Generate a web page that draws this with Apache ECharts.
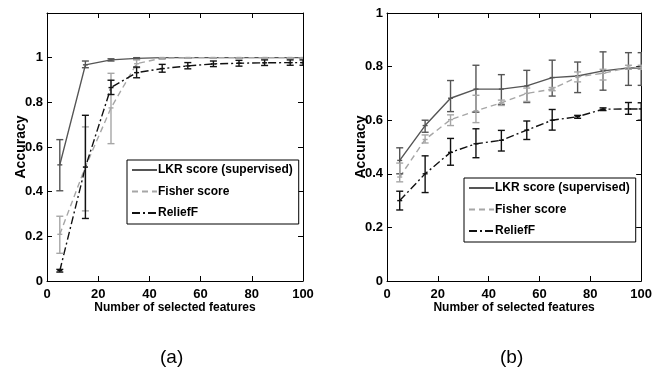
<!DOCTYPE html>
<html><head><meta charset="utf-8">
<script src="https://cdn.jsdelivr.net/npm/echarts@6/dist/echarts.min.js"></script>
<style>html,body{margin:0;padding:0;background:#fff}#c{width:655px;height:373px}</style>
</head><body><div id="c"></div>
<script>
const xs = [5,15,25,35,45,55,65,75,85,95,100];
const seriesNames = ['LKR score (supervised)','Fisher score','ReliefF'];
const yTicksA = [0,0.2,0.4,0.6,0.8,1];
const yTicksB = [0,0.2,0.4,0.6,0.8,1];

// (a)
const lkrA    = [0.52,0.968,0.99,0.997,1.0,1.0,1.0,1.0,1.0,1.0,1.0];
const lkrALo  = [0.404,0.955,0.985,0.993,0.997,0.998,0.998,0.998,0.998,0.998,0.998];
const lkrAHi  = [0.633,0.985,0.995,1.0,1.0,1.0,1.0,1.0,1.0,1.0,1.0];
const fisherA   = [0.209,0.511,0.775,0.973,0.998,1.0,1.0,1.0,1.0,1.0,1.0];
const fisherALo = [0.124,0.314,0.615,0.955,0.993,0.997,0.997,0.997,0.997,0.997,0.997];
const fisherAHi = [0.29,0.69,0.93,0.99,1.0,1.0,1.0,1.0,1.0,1.0,1.0];
const reliefA   = [0.046,0.51,0.866,0.933,0.951,0.963,0.972,0.975,0.977,0.978,0.978];
const reliefALo = [0.04,0.28,0.835,0.91,0.935,0.95,0.96,0.962,0.965,0.966,0.966];
const reliefAHi = [0.052,0.742,0.899,0.958,0.97,0.978,0.985,0.988,0.99,0.99,0.99];

// (b)
const lkrB    = [0.45,0.58,0.682,0.716,0.716,0.728,0.759,0.765,0.784,0.795,0.795];
const lkrBLo  = [0.40,0.555,0.632,0.63,0.659,0.666,0.69,0.703,0.712,0.73,0.73];
const lkrBHi  = [0.497,0.60,0.748,0.805,0.77,0.786,0.824,0.817,0.855,0.852,0.852];
const fisherB   = [0.388,0.528,0.602,0.635,0.665,0.70,0.716,0.762,0.775,0.797,0.797];
const fisherBLo = [0.37,0.515,0.58,0.591,0.655,0.67,0.71,0.743,0.75,0.79,0.79];
const fisherBHi = [0.44,0.545,0.62,0.693,0.675,0.72,0.722,0.78,0.79,0.805,0.805];
const reliefB   = [0.30,0.40,0.48,0.512,0.525,0.563,0.60,0.613,0.641,0.642,0.642];
const reliefBLo = [0.265,0.33,0.432,0.46,0.485,0.528,0.563,0.607,0.636,0.622,0.60];
const reliefBHi = [0.335,0.467,0.532,0.568,0.562,0.597,0.64,0.618,0.646,0.666,0.665];

const FONT = '"Liberation Sans",Arial,sans-serif';
const colors = ['#555555','#a6a6a6','#111111'];
const types = ['solid',[6,4],[8,3,2,3]];

function pts(v){ return xs.map((x,i)=>[x,v[i]]); }
function errData(m,lo,hi){ return xs.map((x,i)=>[x,lo[i],hi[i],m[i]]); }

function lineSeries(idx, vals, gi){
  return {type:'line', name:seriesNames[idx], xAxisIndex:gi*2, yAxisIndex:gi*2,
    data:pts(vals), symbol:'circle', showSymbol:false, z:3,
    lineStyle:{color:colors[idx], width:1.4, type:types[idx]},
    itemStyle:{color:colors[idx]}};
}
function errSeries(idx, m, lo, hi, gi){
  return {type:'custom', name:seriesNames[idx]+' err', xAxisIndex:gi*2, yAxisIndex:gi*2,
    data:errData(m,lo,hi), clip:true, z:4, silent:true,
    renderItem:function(params, api){
      const x = api.value(0);
      const pLo = api.coord([x, api.value(1)]);
      const pHi = api.coord([x, api.value(2)]);
      const pM = api.coord([x, api.value(3)]);
      const w = 3.5;
      const st = {stroke:colors[idx], lineWidth:1.4, fill:null};
      return {type:'group', children:[
        {type:'line', shape:{x1:pLo[0],y1:pLo[1],x2:pHi[0],y2:pHi[1]}, style:st},
        {type:'line', shape:{x1:pLo[0]-w,y1:pLo[1],x2:pLo[0]+w,y2:pLo[1]}, style:st},
        {type:'line', shape:{x1:pHi[0]-w,y1:pHi[1],x2:pHi[0]+w,y2:pHi[1]}, style:st},
        {type:'line', shape:{x1:pM[0]-2.5,y1:pM[1],x2:pM[0]+2.5,y2:pM[1]}, style:st}
      ]};
    }};
}

const axisLabel = {fontFamily:FONT, fontWeight:'bold', fontSize:13, color:'#000'};
const nameStyle = {fontFamily:FONT, fontWeight:'bold', fontSize:12, color:'#000'};
function xAx(gi, main){
  return {type:'value', gridIndex:gi, min:0, max:100, interval:20, position: main?'bottom':'top',
    axisLine:{show:true, onZero:false, lineStyle:{color:'#000', width:1}},
    axisTick:{show:true, inside:true, length:5, lineStyle:{color:'#000'}},
    axisLabel: main ? Object.assign({margin:7}, axisLabel) : {show:false},
    splitLine:{show:false},
    name: main ? 'Number of selected features' : '', nameLocation:'middle', nameGap:21,
    nameMoveOverlap:false, nameTextStyle:Object.assign({verticalAlign:'top'}, nameStyle)};
}
function yAx(gi, main, max, ticks){
  return {type:'value', gridIndex:gi, min:0, max:max, interval:0.2, position: main?'left':'right',
    axisLine:{show:true, onZero:false, lineStyle:{color:'#000', width:1}},
    axisTick:{show:true, inside:true, length:5, lineStyle:{color:'#000'}},
    axisLabel: main ? Object.assign({margin:4, formatter:function(v){
        const t = ticks.find(tt=>Math.abs(tt-v)<1e-9); return t===undefined?'':String(t);}}, axisLabel) : {show:false},
    splitLine:{show:false},
    name: main ? 'Accuracy' : '', nameLocation:'middle', nameGap:26,
    nameMoveOverlap:false, nameTextStyle:Object.assign({verticalAlign:'middle'}, nameStyle, {fontSize:14})};
}

function legend(left, top){
  return {left:left, top:top, orient:'vertical', data:seriesNames,
    borderColor:'#000', borderWidth:1, borderRadius:0, backgroundColor:'#fff',
    padding:[4,6,5,4], itemGap:9.5, itemWidth:25, itemHeight:12,
    itemStyle:{color:'rgba(0,0,0,0)', borderWidth:0, opacity:0},
    textStyle:{fontFamily:FONT, fontWeight:'bold', fontSize:12, color:'#000', padding:[0,0,0,-4]},
    selectedMode:false};
}

const option = {
  animation:false, backgroundColor:'#fff',
  grid:[
    {left:47, top:13, width:256, height:268},
    {left:387, top:13, width:258, height:268}
  ],
  xAxis:[xAx(0,true), xAx(0,false), xAx(1,true), xAx(1,false)],
  yAxis:[yAx(0,true,1.2,yTicksA), yAx(0,false,1.2,yTicksA), yAx(1,true,1,yTicksB), yAx(1,false,1,yTicksB)],
  legend:[legend(127,160), legend(464,178)],
  title:[
    {text:'(a)', left:160, top:348, padding:0, textStyle:{fontFamily:FONT, fontWeight:'normal', fontSize:19, color:'#000'}},
    {text:'(b)', left:500, top:348, padding:0, textStyle:{fontFamily:FONT, fontWeight:'normal', fontSize:19, color:'#000'}}
  ],
  series:[
    lineSeries(0,lkrA,0), lineSeries(1,fisherA,0), lineSeries(2,reliefA,0),
    errSeries(0,lkrA,lkrALo,lkrAHi,0), errSeries(1,fisherA,fisherALo,fisherAHi,0), errSeries(2,reliefA,reliefALo,reliefAHi,0),
    lineSeries(0,lkrB,1), lineSeries(1,fisherB,1), lineSeries(2,reliefB,1),
    errSeries(0,lkrB,lkrBLo,lkrBHi,1), errSeries(1,fisherB,fisherBLo,fisherBHi,1), errSeries(2,reliefB,reliefBLo,reliefBHi,1)
  ]
};
const chart = echarts.init(document.getElementById('c'), null, {renderer:'canvas'});
chart.setOption(option);
</script></body></html>
